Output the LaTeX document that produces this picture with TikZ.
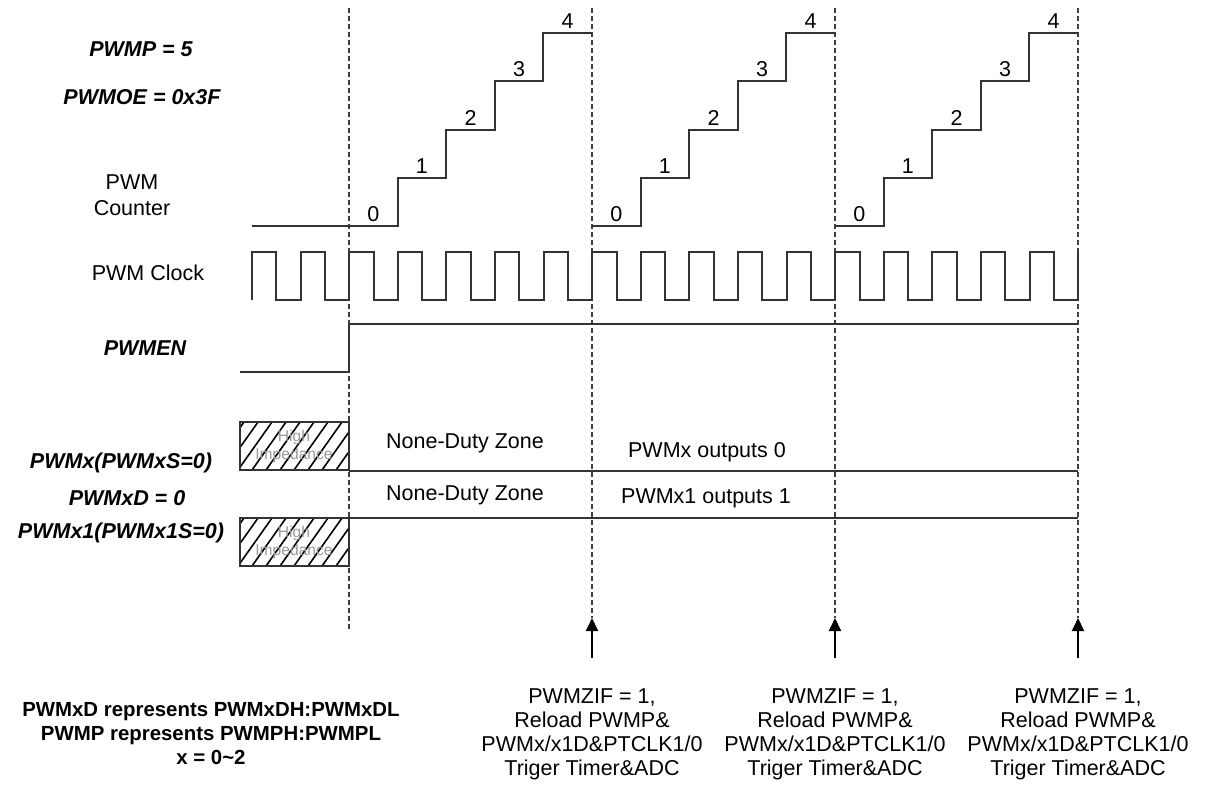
\documentclass[tikz,border=0pt]{standalone}
\usepackage{fontspec}
\setmainfont{Liberation Sans}
\usetikzlibrary{arrows.meta,positioning}

\begin{document}
\begin{tikzpicture}[x=0.5pt,y=-0.5pt,>={Triangle[length=6.5pt,width=6pt]},
 font=\fontsize{10.75}{12}\selectfont,
 wave/.style={line width=1pt,draw=black!80},
 marker/.style={line width=1pt,dash pattern=on 2.5pt off 1.5pt,draw=black!75},
 siglabel/.style={align=center,inner sep=0pt},
 reglabel/.style={siglabel,font=\fontsize{10.75}{12}\selectfont\bfseries\itshape},
 cntlabel/.style={inner sep=0pt},
 hiz/.style={draw=black!80,line width=0.9pt},
 hiztext/.style={align=center,inner sep=0pt,text=black!40,font=\fontsize{7.8}{9}\selectfont},
 note/.style={align=center,inner sep=0pt}]
 \useasboundingbox (0,0) rectangle (1226,789);
 \def\pw{48.6}

 % signal names
 \node[reglabel] (pwmp) at (141,49) {PWMP = 5};
 \node[reglabel] (pwmoe) at (142,97) {PWMOE = 0x3F};
 \node[siglabel,font=\fontsize{10.75}{13}\selectfont] (cnt) at (132,195) {PWM\\Counter};
 \node[siglabel] (clk) at (148,273) {PWM Clock};
 \node[reglabel] (en) at (145,348) {PWMEN};
 \node[reglabel] (pwmx) at (121,463) {PWMx(PWMxS=0)};
 \node[reglabel] (pwmxd) at (127,498) {PWMxD = 0};
 \node[reglabel] (pwmx1) at (121,533) {PWMx1(PWMx1S=0)};

 % period markers and reload triggers
 \coordinate (m0top) at (349,8);
 \coordinate (m0bot) at (349,632);
 \draw[marker] (m0top) -- (m0bot);
 \foreach \i/\x in {1/592,2/835,3/1078}{
 \coordinate (m\i top) at (\x,8);
 \coordinate (m\i tip) at (\x,618);
 \coordinate (m\i tail) at (\x,658);
 \draw[marker] (m\i top) -- (m\i tip);
 \draw[->,line width=1pt] (m\i tail) -- (m\i tip);
 \node[note,below=15pt of m\i tail] (trig\i)
 {PWMZIF = 1,\\Reload PWMP\&\\PWMx/x1D\&PTCLK1/0\\Triger Timer\&ADC};
 }

 % counter
 \draw[wave] (252,226) -- (349,226);
 \foreach \s in {349,592,835}{
 \draw[wave] (\s,226) \foreach \k in {0,...,3}{ -- ++(\pw,0) -- ++(0,-48.25)} -- ++(\pw,0);
 \foreach \k in {0,...,4}
 \node[cntlabel] at ({\s+(\k+0.5)*\pw},{214-48.25*\k}) {\k};
 }

 % clock
 \draw[wave] (252,300) \foreach \k in {0,...,16}{ -- ++(0,-48) -- ++(24.3,0) -- ++(0,48) -- ++(24.3,0)} -- ++(0,-48);

 % enable
 \draw[wave] (240,372) -- (349,372) -- (349,324) -- (1078,324);

 % outputs
 \foreach \y in {422,518}{
 \begin{scope}
 \clip (240,\y) rectangle (349,\y+48);
 \foreach \h in {196,210,...,350} \draw[line width=0.8pt] (\h,\y+48) -- ++(34,-48);
 \end{scope}
 \draw[hiz] (240,\y) rectangle (349,\y+48);
 \node[hiztext] at (294,\y+24) {High\\Impedance};
 }
 \draw[wave] (349,471) -- (1078,471);
 \draw[wave] (349,518) -- (1078,518);
 \node[siglabel] (zone1) at (465,443) {None-Duty Zone};
 \node[siglabel] (zone2) at (465,495) {None-Duty Zone};
 \node[siglabel] (out0) at (707,452) {PWMx outputs 0};
 \node[siglabel] (out1) at (706,498) {PWMx1 outputs 1};

 % register notes
 \node[note,font=\fontsize{10.2}{12}\selectfont\bfseries] (regs) at (211,734)
 {PWMxD represents PWMxDH:PWMxDL\\PWMP represents PWMPH:PWMPL\\x = 0\textasciitilde 2};
\end{tikzpicture}
\end{document}
